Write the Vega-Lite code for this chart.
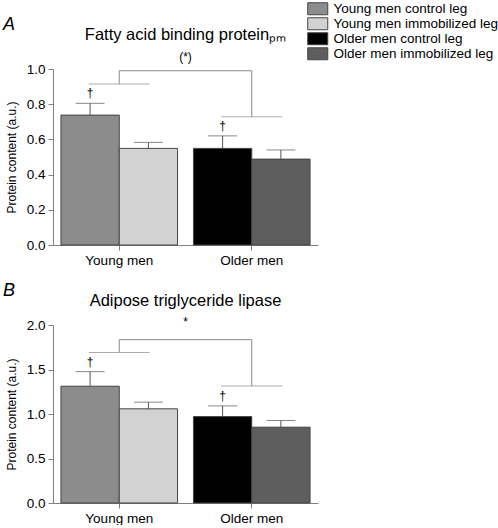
{
  "$schema": "https://vega.github.io/schema/vega-lite/v6.json",
  "background": "white",
  "padding": {"left": 3, "top": 2, "right": 0, "bottom": 0},
  "spacing": 14,
  "config": {
    "font": "Liberation Sans",
    "view": {"stroke": null},
    "axis": {"grid": false, "domainColor": "#808080", "tickColor": "#808080", "tickSize": 5, "labelFont": "Liberation Sans", "labelFontSize": 13.5, "labelColor": "#000000", "labelPadding": 3, "labelOverlap": false, "labelFlush": false, "titleFont": "Liberation Sans", "titleFontSize": 12, "titleFontWeight": "normal", "titleColor": "#000000"},
    "title": {"font": "Liberation Sans", "fontWeight": "normal", "color": "#000000"},
    "legend": {"orient": "none", "legendX": 258, "legendY": -67, "title": null, "symbolType": "M-1.67,-1H1.67V1H-1.67Z", "symbolSize": 144, "symbolStrokeColor": "#444444", "symbolStrokeWidth": 1, "labelFontSize": 13.5, "labelColor": "#000000", "labelFont": "Liberation Sans", "labelLimit": 300, "rowPadding": -2, "labelOffset": 9, "symbolOpacity": 1, "padding": 0}
  },
  "datasets": {
    "bars": [
      {"panel": "A", "group": "Young men", "leg": "control", "series": "Young men control leg", "value": 0.738, "err": 0.805, "sig": "†"},
      {"panel": "A", "group": "Young men", "leg": "immobilized", "series": "Young men immobilized leg", "value": 0.549, "err": 0.583, "sig": ""},
      {"panel": "A", "group": "Older men", "leg": "control", "series": "Older men control leg", "value": 0.549, "err": 0.62, "sig": "†"},
      {"panel": "A", "group": "Older men", "leg": "immobilized", "series": "Older men immobilized leg", "value": 0.488, "err": 0.54, "sig": ""},
      {"panel": "B", "group": "Young men", "leg": "control", "series": "Young men control leg", "value": 1.312, "err": 1.476, "sig": "†"},
      {"panel": "B", "group": "Young men", "leg": "immobilized", "series": "Young men immobilized leg", "value": 1.058, "err": 1.133, "sig": ""},
      {"panel": "B", "group": "Older men", "leg": "control", "series": "Older men control leg", "value": 0.971, "err": 1.091, "sig": "†"},
      {"panel": "B", "group": "Older men", "leg": "immobilized", "series": "Older men immobilized leg", "value": 0.852, "err": 0.927, "sig": ""}
    ],
    "brackets": [
      {"panel": "A", "group": "Young men", "low": 0.915, "high": 0.99},
      {"panel": "A", "group": "Older men", "low": 0.729, "high": 0.99},
      {"panel": "B", "group": "Young men", "low": 1.69, "high": 1.835},
      {"panel": "B", "group": "Older men", "low": 1.316, "high": 1.835}
    ],
    "spans": [
      {"panel": "A", "from": "Young men", "to": "Older men", "y": 0.99},
      {"panel": "B", "from": "Young men", "to": "Older men", "y": 1.835}
    ]
  },
  "vconcat": [
    {
      "title": {"text": "A", "anchor": "start", "frame": "group", "fontSize": 18, "fontStyle": "italic", "offset": -7, "dx": -50},
      "vconcat": [
        {
          "width": 265,
          "height": 176,
          "title": {"text": "Fatty acid binding proteinₚₘ", "subtitle": "(*)", "fontSize": 16.5, "subtitleFontSize": 12, "subtitleColor": "#000000", "subtitlePadding": 9, "anchor": "middle", "offset": -1},
          "layer": [
            {
              "data": {"name": "bars"},
              "transform": [{"filter": "datum.panel == 'A'"}],
              "mark": {"type": "bar", "stroke": "#444444", "strokeWidth": 1},
              "encoding": {
                "x": {"field": "group", "type": "nominal", "sort": ["Young men", "Older men"], "scale": {"domain": ["Young men", "Older men"], "paddingInner": 0.12, "paddingOuter": 0.06}, "axis": {"title": null, "labelAngle": 0}},
                "xOffset": {"field": "leg", "type": "nominal", "scale": {"domain": ["control", "immobilized"], "paddingInner": 0, "paddingOuter": 0}},
                "y": {"field": "value", "type": "quantitative", "scale": {"domain": [0, 1]}, "axis": {"values": [0, 0.2, 0.4, 0.6, 0.8, 1.0], "tickCount": 6, "labelOverlap": false, "format": ".1f", "title": "Protein content (a.u.)", "titlePadding": 8}},
                "color": {"field": "series", "type": "nominal", "scale": {"domain": ["Young men control leg", "Young men immobilized leg", "Older men control leg", "Older men immobilized leg"], "range": ["#8c8c8c", "#d2d2d2", "#000000", "#5e5e5e"]}}
              }
            },
            {
              "data": {"name": "bars"},
              "transform": [{"filter": "datum.panel == 'A'"}],
              "mark": {"type": "rule", "color": "#555555", "strokeWidth": 1},
              "encoding": {
                "x": {"field": "group", "type": "nominal", "scale": {"domain": ["Young men", "Older men"]}},
                "xOffset": {"field": "leg", "type": "nominal", "scale": {"domain": ["control", "immobilized"]}},
                "y": {"field": "value", "type": "quantitative"},
                "y2": {"field": "err"}
              }
            },
            {
              "data": {"name": "bars"},
              "transform": [{"filter": "datum.panel == 'A'"}],
              "mark": {"type": "tick", "color": "#555555", "size": 29, "thickness": 1, "orient": "horizontal"},
              "encoding": {
                "x": {"field": "group", "type": "nominal", "scale": {"domain": ["Young men", "Older men"]}},
                "xOffset": {"field": "leg", "type": "nominal", "scale": {"domain": ["control", "immobilized"]}},
                "y": {"field": "err", "type": "quantitative"}
              }
            },
            {
              "data": {"name": "bars"},
              "transform": [{"filter": "datum.panel == 'A'"}],
              "mark": {"type": "text", "baseline": "bottom", "dy": -3, "fontSize": 12, "color": "#000000"},
              "encoding": {
                "x": {"field": "group", "type": "nominal", "scale": {"domain": ["Young men", "Older men"]}},
                "xOffset": {"field": "leg", "type": "nominal", "scale": {"domain": ["control", "immobilized"]}},
                "y": {"field": "err", "type": "quantitative"},
                "text": {"field": "sig"}
              }
            },
            {
              "data": {"name": "brackets"},
              "transform": [{"filter": "datum.panel == 'A'"}],
              "mark": {"type": "rule", "color": "#8a8a8a", "strokeWidth": 1},
              "encoding": {
                "x": {"field": "group", "type": "nominal", "scale": {"domain": ["Young men", "Older men"]}},
                "y": {"field": "low", "type": "quantitative"},
                "y2": {"field": "high"}
              }
            },
            {
              "data": {"name": "brackets"},
              "transform": [{"filter": "datum.panel == 'A'"}],
              "mark": {"type": "tick", "color": "#8a8a8a", "size": 61, "thickness": 1, "orient": "horizontal"},
              "encoding": {
                "x": {"field": "group", "type": "nominal", "scale": {"domain": ["Young men", "Older men"]}},
                "y": {"field": "low", "type": "quantitative"}
              }
            },
            {
              "data": {"name": "spans"},
              "transform": [{"filter": "datum.panel == 'A'"}],
              "mark": {"type": "rule", "color": "#8a8a8a", "strokeWidth": 1},
              "encoding": {
                "x": {"field": "from", "type": "nominal", "scale": {"domain": ["Young men", "Older men"]}},
                "x2": {"field": "to"},
                "y": {"field": "y", "type": "quantitative"}
              }
            }
          ]
        }
      ]
    },
    {
      "title": {"text": "B", "anchor": "start", "frame": "group", "fontSize": 18, "fontStyle": "italic", "offset": -7, "dx": -50},
      "vconcat": [
        {
          "width": 265,
          "height": 178,
          "title": {"text": "Adipose triglyceride lipase", "subtitle": "*", "fontSize": 16.5, "subtitleFontSize": 12, "subtitleColor": "#000000", "subtitlePadding": 8, "anchor": "middle", "offset": -10},
          "layer": [
            {
              "data": {"name": "bars"},
              "transform": [{"filter": "datum.panel == 'B'"}],
              "mark": {"type": "bar", "stroke": "#444444", "strokeWidth": 1},
              "encoding": {
                "x": {"field": "group", "type": "nominal", "sort": ["Young men", "Older men"], "scale": {"domain": ["Young men", "Older men"], "paddingInner": 0.12, "paddingOuter": 0.06}, "axis": {"title": null, "labelAngle": 0}},
                "xOffset": {"field": "leg", "type": "nominal", "scale": {"domain": ["control", "immobilized"], "paddingInner": 0, "paddingOuter": 0}},
                "y": {"field": "value", "type": "quantitative", "scale": {"domain": [0, 2]}, "axis": {"values": [0, 0.5, 1.0, 1.5, 2.0], "labelOverlap": false, "format": ".1f", "title": "Protein content (a.u.)", "titlePadding": 8}},
                "color": {"field": "series", "type": "nominal", "scale": {"domain": ["Young men control leg", "Young men immobilized leg", "Older men control leg", "Older men immobilized leg"], "range": ["#8c8c8c", "#d2d2d2", "#000000", "#5e5e5e"]}}
              }
            },
            {
              "data": {"name": "bars"},
              "transform": [{"filter": "datum.panel == 'B'"}],
              "mark": {"type": "rule", "color": "#555555", "strokeWidth": 1},
              "encoding": {
                "x": {"field": "group", "type": "nominal", "scale": {"domain": ["Young men", "Older men"]}},
                "xOffset": {"field": "leg", "type": "nominal", "scale": {"domain": ["control", "immobilized"]}},
                "y": {"field": "value", "type": "quantitative"},
                "y2": {"field": "err"}
              }
            },
            {
              "data": {"name": "bars"},
              "transform": [{"filter": "datum.panel == 'B'"}],
              "mark": {"type": "tick", "color": "#555555", "size": 29, "thickness": 1, "orient": "horizontal"},
              "encoding": {
                "x": {"field": "group", "type": "nominal", "scale": {"domain": ["Young men", "Older men"]}},
                "xOffset": {"field": "leg", "type": "nominal", "scale": {"domain": ["control", "immobilized"]}},
                "y": {"field": "err", "type": "quantitative"}
              }
            },
            {
              "data": {"name": "bars"},
              "transform": [{"filter": "datum.panel == 'B'"}],
              "mark": {"type": "text", "baseline": "bottom", "dy": -3, "fontSize": 12, "color": "#000000"},
              "encoding": {
                "x": {"field": "group", "type": "nominal", "scale": {"domain": ["Young men", "Older men"]}},
                "xOffset": {"field": "leg", "type": "nominal", "scale": {"domain": ["control", "immobilized"]}},
                "y": {"field": "err", "type": "quantitative"},
                "text": {"field": "sig"}
              }
            },
            {
              "data": {"name": "brackets"},
              "transform": [{"filter": "datum.panel == 'B'"}],
              "mark": {"type": "rule", "color": "#8a8a8a", "strokeWidth": 1},
              "encoding": {
                "x": {"field": "group", "type": "nominal", "scale": {"domain": ["Young men", "Older men"]}},
                "y": {"field": "low", "type": "quantitative"},
                "y2": {"field": "high"}
              }
            },
            {
              "data": {"name": "brackets"},
              "transform": [{"filter": "datum.panel == 'B'"}],
              "mark": {"type": "tick", "color": "#8a8a8a", "size": 61, "thickness": 1, "orient": "horizontal"},
              "encoding": {
                "x": {"field": "group", "type": "nominal", "scale": {"domain": ["Young men", "Older men"]}},
                "y": {"field": "low", "type": "quantitative"}
              }
            },
            {
              "data": {"name": "spans"},
              "transform": [{"filter": "datum.panel == 'B'"}],
              "mark": {"type": "rule", "color": "#8a8a8a", "strokeWidth": 1},
              "encoding": {
                "x": {"field": "from", "type": "nominal", "scale": {"domain": ["Young men", "Older men"]}},
                "x2": {"field": "to"},
                "y": {"field": "y", "type": "quantitative"}
              }
            }
          ]
        }
      ]
    }
  ]
}
